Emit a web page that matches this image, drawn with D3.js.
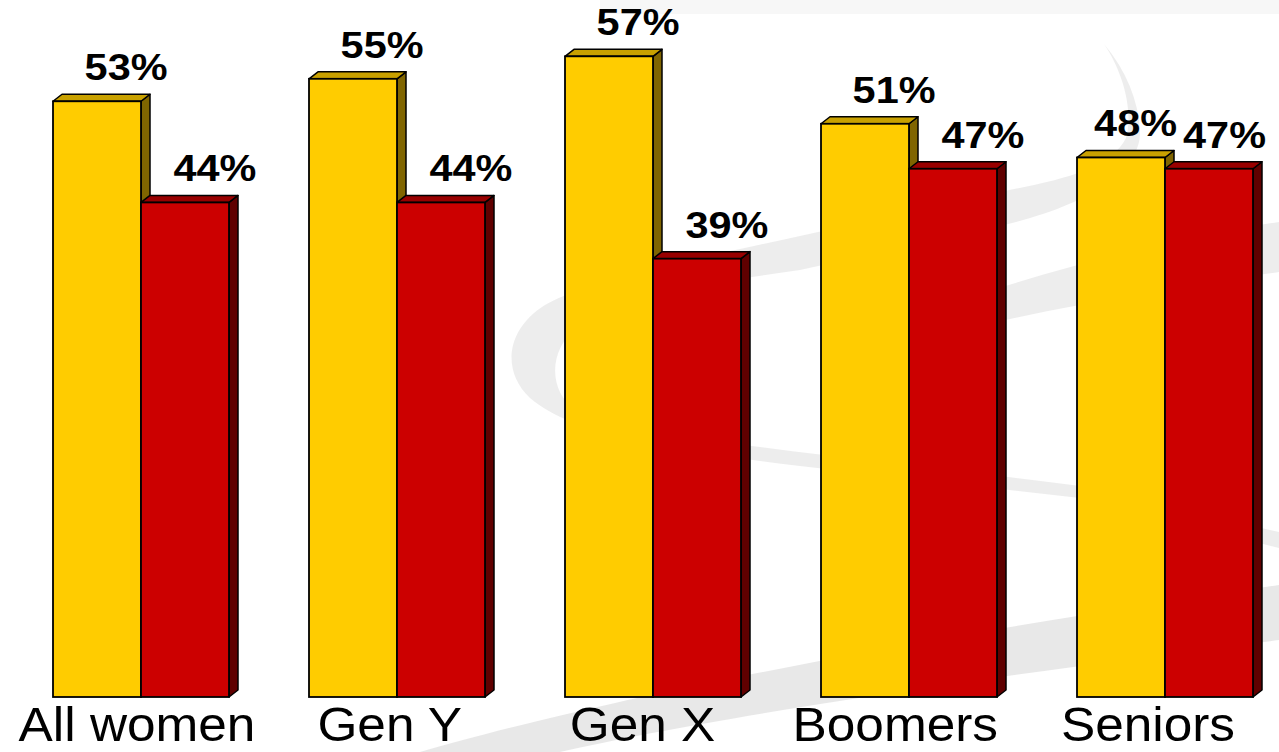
<!DOCTYPE html>
<html>
<head>
<meta charset="utf-8">
<script src="https://cdn.jsdelivr.net/npm/d3@7/dist/d3.min.js"></script>
<style>
  html, body { margin: 0; padding: 0; background: #ffffff; overflow: hidden; }
  svg { display: block; }
</style>
</head>
<body>
<svg id="chart" width="1279" height="752"></svg>
<script>
// Share of women by generation, two answer groups per category
const categories = ["All women", "Gen Y", "Gen X", "Boomers", "Seniors"];
const seriesNames = ["First", "Second"];
const firstValues = [53, 55, 57, 51, 48];
const secondValues = [44, 44, 39, 47, 47];

const W = 1279, H = 752;
const svg = d3.select("#chart");

// Decorative swirl in the background
const deco = svg.append("g").attr("class", "backdrop");
deco.append("path")
  .attr("d", "M1104,44 C1122,70 1134,110 1126,138 C1110,170 1060,180 1000,192 L800,236 C680,262 590,280 545,305 C505,330 502,372 530,398 C580,440 690,452 800,466 L1080,498 L1279,548 L1279,532 L1080,486 C900,462 640,440 575,410 C548,390 548,350 578,326 C625,298 700,284 800,270 L1000,226 C1090,205 1142,170 1140,130 C1138,100 1126,70 1104,44 Z")
  .attr("fill", "#e6e6e6").attr("opacity", 0.7);
deco.append("path")
  .attr("d", "M1279,222 C1180,236 1080,262 960,300 L900,318 L900,345 C1000,318 1150,290 1279,272 Z")
  .attr("fill", "#e6e6e6").attr("opacity", 0.7);
deco.append("path")
  .attr("d", "M420,752 C600,700 900,640 1279,585 L1279,640 C960,680 700,720 560,752 Z")
  .attr("fill", "#e2e2e2").attr("opacity", 0.8);
deco.append("rect")
  .attr("x", 600).attr("y", 0).attr("width", 679).attr("height", 14)
  .attr("fill", "#f7f7f7");

// Scales
const x0 = d3.scaleBand()
  .domain(categories)
  .range([13, 1293])
  .paddingInner(0.3125)
  .paddingOuter(0.15625);

const x1 = d3.scaleBand()
  .domain(seriesNames)
  .range([0, x0.bandwidth()])
  .padding(0);

const y = d3.scaleLinear().domain([0, 60]).range([697, 697 - 60 * 11.24]);

const depthX = 9, depthY = 7;
const palette = {
  First:  { front: "#FFCC00", top: "#C9A100", side: "#806500" },
  Second: { front: "#CC0000", top: "#990000", side: "#600000" }
};

const rows = categories.map((c, i) => ({
  category: c,
  values: [
    { series: "First", value: firstValues[i] },
    { series: "Second", value: secondValues[i] }
  ]
}));

const bars = svg.append("g").attr("class", "bars");
const groups = bars.selectAll("g.group")
  .data(rows)
  .join("g")
  .attr("class", "group")
  .attr("transform", d => `translate(${x0(d.category)},0)`);

const bar = groups.selectAll("g.bar")
  .data(d => d.values)
  .join("g")
  .attr("class", "bar");

const base = y(0);
const stroke = "#000";

// Side face
bar.append("path")
  .attr("d", d => {
    const xl = x1(d.series), xr = xl + x1.bandwidth(), t = y(d.value);
    return `M${xr},${t} L${xr + depthX},${t - depthY} L${xr + depthX},${base - depthY} L${xr},${base} Z`;
  })
  .attr("fill", d => palette[d.series].side)
  .attr("stroke", stroke).attr("stroke-width", 1.5).attr("stroke-linejoin", "round");

// Top face
bar.append("path")
  .attr("d", d => {
    const xl = x1(d.series), xr = xl + x1.bandwidth(), t = y(d.value);
    return `M${xl},${t} L${xl + depthX},${t - depthY} L${xr + depthX},${t - depthY} L${xr},${t} Z`;
  })
  .attr("fill", d => palette[d.series].top)
  .attr("stroke", stroke).attr("stroke-width", 1.5).attr("stroke-linejoin", "round");

// Front face
bar.append("rect")
  .attr("x", d => x1(d.series))
  .attr("y", d => y(d.value))
  .attr("width", x1.bandwidth())
  .attr("height", d => base - y(d.value))
  .attr("fill", d => palette[d.series].front)
  .attr("stroke", stroke).attr("stroke-width", 1.8);

// Value labels: placed up-right of each bar, pushed inside the right edge and apart from neighbours
const labelFont = 37, labelStretch = 1.12, labelGap = 6, rightLimit = 1266;
const labelLayer = svg.append("g").attr("class", "values");
const labelItems = [];
rows.forEach(r => r.values.forEach(v => {
  labelItems.push({
    text: v.value + "%",
    value: v.value,
    cx: x0(r.category) + x1(v.series) + x1.bandwidth() / 2 + 30,
    base: y(v.value) - 21
  });
}));

const labels = labelLayer.selectAll("text")
  .data(labelItems)
  .join("text")
  .attr("font-family", "'Liberation Sans', Arial, Helvetica, sans-serif")
  .attr("font-weight", "bold")
  .attr("font-size", labelFont)
  .attr("fill", "#000")
  .attr("text-anchor", "middle")
  .text(d => d.text);

labels.each(function (d) { d.w = this.getComputedTextLength() * labelStretch; });
// keep inside the right edge, then resolve overlaps from right to left
for (let i = labelItems.length - 1; i >= 0; i--) {
  const d = labelItems[i];
  if (d.cx + d.w / 2 > rightLimit) d.cx = rightLimit - d.w / 2;
  if (i < labelItems.length - 1) {
    const n = labelItems[i + 1];
    const limit = n.cx - n.w / 2 - labelGap;
    if (d.cx + d.w / 2 > limit) d.cx = limit - d.w / 2;
  }
}
labels.attr("transform", d => `translate(${d.cx},${d.base}) scale(${labelStretch},1)`);

// Category labels along the bottom
const catStretch = 1.07;
const catShift = d3.scaleLinear()
  .domain([x0(categories[0]), x0(categories[categories.length - 1])])
  .range([-4, -17]);
svg.append("g").attr("class", "categories")
  .selectAll("text")
  .data(categories)
  .join("text")
  .attr("font-family", "'Liberation Sans', Arial, Helvetica, sans-serif")
  .attr("font-size", 48)
  .attr("fill", "#000")
  .attr("text-anchor", "middle")
  .attr("transform", c => `translate(${x0(c) + x0.bandwidth() / 2 + catShift(x0(c))},741) scale(${catStretch},1)`)
  .text(c => c);
</script>
</body>
</html>
